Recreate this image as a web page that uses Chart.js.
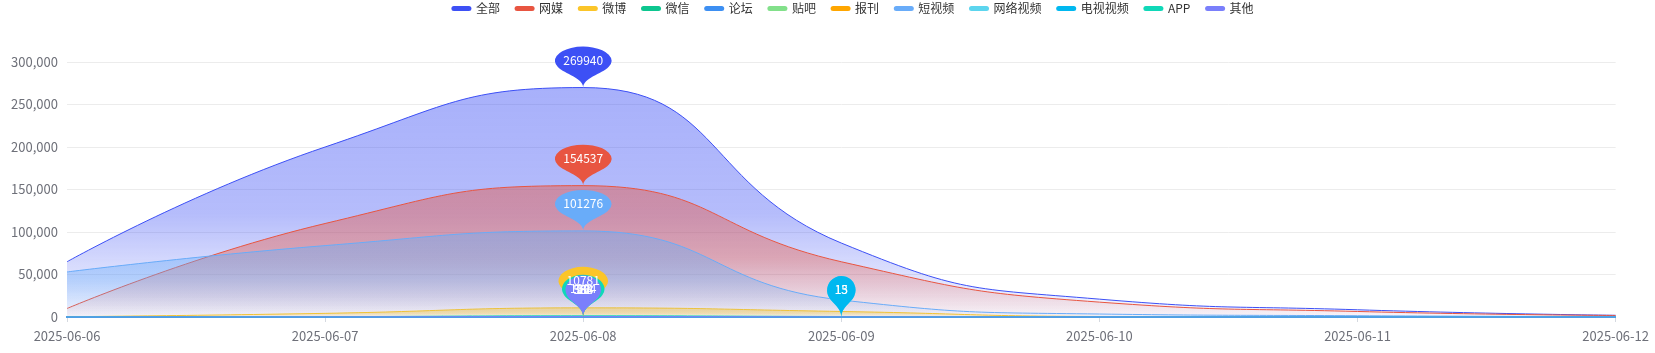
<!DOCTYPE html>
<html><head><meta charset="utf-8">
<script src="https://cdn.jsdelivr.net/npm/chart.js@4.4.1/dist/chart.umd.min.js"></script>
<style>html,body{margin:0;padding:0;background:#fff;overflow:hidden}#wrap{width:1655px;height:353px;position:relative}</style>
</head><body><div id="wrap"><canvas id="c" width="1655" height="353"></canvas></div>
<script>
// ---- data ----
const dates = ['2025-06-06','2025-06-07','2025-06-08','2025-06-09','2025-06-10','2025-06-11','2025-06-12'];
const seriesNames = ['全部','网媒','微博','微信','论坛','贴吧','报刊','短视频','网络视频','电视视频','APP','其他'];
const allMedia    = [65000, 200000, 269940, 87000, 21000, 8500, 2000];
const webMedia    = [10000, 110000, 154537, 65000, 17500, 6500, 1800];
const weibo       = [300, 4300, 10781, 6500, 600, 200, 50];
const wechat      = [2, 28, 96, 41, 9, 3, 0];
const forum       = [15, 160, 388, 220, 60, 25, 4];
const tieba       = [0, 3, 12, 5, 1, 0, 0];
const newspaper   = [0, 1, 6, 2, 0, 0, 0];
const shortVideo  = [53000, 84000, 101276, 20000, 3500, 1500, 300];
const onlineVideo = [0, 2, 9, 15, 4, 1, 0];
const tvVideo     = [0, 1, 5, 13, 3, 0, 0];
const app         = [30, 420, 1394, 610, 120, 40, 5];
const other       = [12, 180, 584, 260, 60, 18, 2];
const yTicks = [0, 50000, 100000, 150000, 200000, 250000, 300000];

const seriesData = [allMedia, webMedia, weibo, wechat, forum, tieba, newspaper, shortVideo, onlineVideo, tvVideo, app, other];
// ---- styles ----
const colors = ['#3d50f5','#e85541','#fbc529','#0dc68f','#3d8ff2','#82e08a','#ffa600','#69acf9','#5cd5ee','#00b8f0','#10d8b8','#7a7ffb'];
const FONT = '"Noto Sans CJK SC", "Noto Sans", sans-serif';

function rgba(hex, a) {
  const n = parseInt(hex.slice(1), 16);
  return `rgba(${(n>>16)&255},${(n>>8)&255},${n&255},${a})`;
}
function areaFill(ctx, i) {
  const chart = ctx.chart;
  if (!chart.chartArea || !chart.scales.y) return 'transparent';
  const ys = chart.scales.y;
  const top = ys.getPixelForValue(Math.max(...seriesData[i]));
  const bottom = ys.getPixelForValue(0);
  if (bottom - top < 1) return rgba(colors[i], 0.3);
  const g = chart.ctx.createLinearGradient(0, top, 0, bottom);
  g.addColorStop(0, rgba(colors[i], 0.45));
  g.addColorStop(0.55, rgba(colors[i], 0.38));
  g.addColorStop(1, rgba(colors[i], 0.03));
  return g;
}

// Smooth curve control points in the ECharts style (smooth 0.5, clamped to avoid overshoot)
const smoothPlugin = {
  id: 'echartsSmooth',
  beforeDatasetsDraw(chart) {
    const s = 0.5;
    chart.getSortedVisibleDatasetMetas().forEach(meta => {
      if (meta.dataset && meta.dataset.updateControlPoints) meta.dataset.updateControlPoints(chart.chartArea, 'x');
      const pts = meta.data, n = pts.length;
      for (let i = 0; i < n; i++) { const p = pts[i]; p.cp1x = p.x; p.cp1y = p.y; p.cp2x = p.x; p.cp2y = p.y; }
      for (let i = 1; i < n - 1; i++) {
        const p = pts[i], pr = pts[i - 1], nx = pts[i + 1];
        const x = p.x, y = p.y;
        const lenPrev = Math.hypot(x - pr.x, y - pr.y), lenNext = Math.hypot(nx.x - x, nx.y - y);
        if (lenPrev < 1e-6 || lenNext < 1e-6) continue;
        let vx = nx.x - pr.x, vy = nx.y - pr.y;
        const ratio = lenNext / (lenNext + lenPrev);
        let ncx = x + vx * s * ratio, ncy = y + vy * s * ratio;
        ncx = Math.min(ncx, Math.max(nx.x, x)); ncy = Math.min(ncy, Math.max(nx.y, y));
        ncx = Math.max(ncx, Math.min(nx.x, x)); ncy = Math.max(ncy, Math.min(nx.y, y));
        vx = ncx - x; vy = ncy - y;
        let cx1 = x - vx * lenPrev / lenNext, cy1 = y - vy * lenPrev / lenNext;
        cx1 = Math.min(cx1, Math.max(pr.x, x)); cy1 = Math.min(cy1, Math.max(pr.y, y));
        cx1 = Math.max(cx1, Math.min(pr.x, x)); cy1 = Math.max(cy1, Math.min(pr.y, y));
        vx = x - cx1; vy = y - cy1;
        ncx = x + vx * lenNext / lenPrev; ncy = y + vy * lenNext / lenPrev;
        p.cp1x = cx1; p.cp1y = cy1; p.cp2x = ncx; p.cp2y = ncy;
      }
    });
  }
};

function pinPath(c) {
  const w = 2 / 5 * 3, h = Math.max(w, 2), r = w / 2;
  const dy = r * r / (h - r);
  const cy = -h + r + dy;
  const angle = Math.asin(dy / r);
  const dx = Math.cos(angle) * r;
  const tanX = Math.sin(angle), tanY = Math.cos(angle);
  const cpLen = r * 0.6, cpLen2 = r * 0.7;
  c.beginPath();
  c.moveTo(-dx, cy + dy);
  c.arc(0, cy, r, Math.PI - angle, Math.PI * 2 + angle);
  c.bezierCurveTo(dx - tanX * cpLen, cy + dy + tanY * cpLen, 0, -cpLen2, 0, 0);
  c.bezierCurveTo(0, -cpLen2, -dx + tanX * cpLen, cy + dy + tanY * cpLen, -dx, cy + dy);
  c.closePath();
}

const pinPlugin = {
  id: 'pins',
  afterDatasetsDraw(chart) {
    const c = chart.ctx, xs = chart.scales.x, ys = chart.scales.y;
    const pins = seriesData.map((arr, i) => {
      let mi = 0;
      arr.forEach((v, k) => { if (v > arr[mi]) mi = k; });
      const label = String(arr[mi]);
      return { x: xs.getPixelForValue(mi), y: ys.getPixelForValue(arr[mi]),
               W: 11.7 * label.length + 24, H: 47, color: colors[i], label };
    });
    pins.forEach(p => {
      c.save();
      c.translate(p.x, p.y);
      c.scale(p.W / 2, p.H / 2);
      pinPath(c);
      c.restore();
      c.fillStyle = p.color;
      c.fill();
    });
    c.save();
    c.font = '12px ' + FONT;
    c.fillStyle = '#fff';
    c.textAlign = 'center';
    c.textBaseline = 'middle';
    pins.forEach(p => c.fillText(p.label, p.x, p.y - 0.571 * p.H - 0.5));
    c.restore();
  }
};

const legendPlugin = {
  id: 'customLegend',
  afterDraw(chart) {
    const c = chart.ctx;
    c.save();
    c.font = '12px ' + FONT;
    c.textBaseline = 'middle';
    c.textAlign = 'left';
    let x = 451.4;
    const yc = 8.5;
    seriesNames.forEach((name, i) => {
      c.fillStyle = colors[i];
      c.beginPath();
      c.roundRect(x, yc - 2.5, 20, 5, 2.5);
      c.fill();
      c.fillStyle = '#333';
      c.fillText(name, x + 24.5, yc);
      x += 24.5 + c.measureText(name).width + 14.7;
    });
    c.restore();
  }
};

const datasets = seriesNames.map((name, i) => ({
  label: name,
  data: seriesData[i],
  borderColor: colors[i],
  borderWidth: 1,
  pointRadius: 0,
  pointHoverRadius: 0,
  tension: 0.5,
  fill: 'origin',
  order: seriesNames.length - i,
  backgroundColor: (ctx) => areaFill(ctx, i)
}));

new Chart(document.getElementById('c'), {
  type: 'line',
  data: { labels: dates, datasets },
  options: {
    responsive: false,
    animation: false,
    devicePixelRatio: 1,
    events: [],
    layout: { padding: { top: 62, right: 36, bottom: 0, left: 0 } },
    plugins: { legend: { display: false }, tooltip: { enabled: false } },
    scales: {
      x: {
        type: 'category',
        offset: false,
        grid: { display: true, drawOnChartArea: false, drawTicks: true, tickLength: 5, color: '#d5d9e0' },
        border: { display: true, color: '#4f9de6', width: 2 },
        ticks: { color: '#6e7079', font: { family: FONT, size: 13 }, padding: 6, maxRotation: 0, autoSkip: false },
        afterFit: s => { s.height = 36; }
      },
      y: {
        min: 0, max: 300000,
        afterBuildTicks: s => { s.ticks = yTicks.map(v => ({ value: v })); },
        grid: { color: '#ececec', drawTicks: false },
        border: { display: false },
        ticks: { color: '#6e7079', font: { family: FONT, size: 13 }, padding: 9,
                 callback: v => Number(v).toLocaleString('en-US') },
        afterFit: s => { s.width = 67; }
      }
    }
  },
  plugins: [smoothPlugin, pinPlugin, legendPlugin]
});
</script>
</body></html>
